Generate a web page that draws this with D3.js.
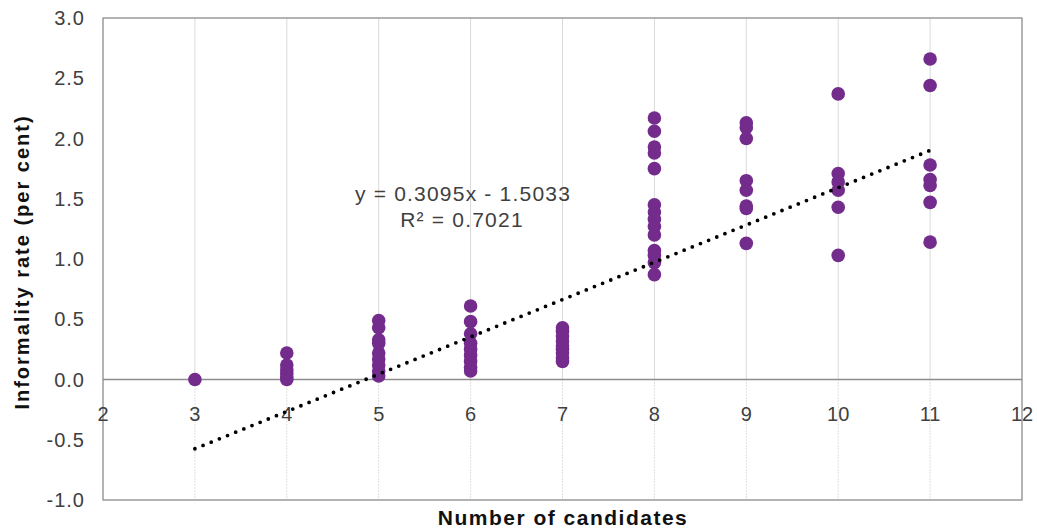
<!DOCTYPE html>
<html><head><meta charset="utf-8">
<script src="https://cdn.jsdelivr.net/npm/d3@7"></script>
<style>
body{margin:0;background:#fff;}
svg text{font-family:"Liberation Sans",Arial,sans-serif;fill:#404040;}
</style></head>
<body><svg id="c" width="1037" height="530"></svg>
<script>
const candidates = [3,
  4,4,4,4,4,4,
  5,5,5,5,5,5,5,5,5,
  6,6,6,6,6,6,6,6,6,
  7,7,7,7,7,7,7,7,7,
  8,8,8,8,8,8,8,8,8,8,8,8,8,8,
  9,9,9,9,9,9,9,9,
  10,10,10,10,10,10,
  11,11,11,11,11,11,11];
const informality = [0.0,
  0.22,0.12,0.08,0.05,0.02,0.0,
  0.49,0.43,0.33,0.30,0.22,0.17,0.12,0.07,0.03,
  0.61,0.48,0.38,0.30,0.25,0.20,0.15,0.10,0.07,
  0.43,0.40,0.36,0.32,0.28,0.25,0.22,0.18,0.15,
  2.17,2.06,1.93,1.88,1.75,1.45,1.39,1.33,1.27,1.20,1.07,1.03,0.97,0.87,
  2.13,2.09,2.00,1.65,1.57,1.44,1.42,1.13,
  2.37,1.71,1.64,1.57,1.43,1.03,
  2.66,2.44,1.78,1.66,1.61,1.47,1.14];
const xTicks = [2,3,4,5,6,7,8,9,10,11,12];
const yTicks = [-1.0,-0.5,0.0,0.5,1.0,1.5,2.0,2.5,3.0];
const trendSlope = 0.3095, trendIntercept = -1.5033;
const trendRange = [3, 11];
const equationText = "y = 0.3095x - 1.5033";
const r2Text = "R² = 0.7021";
const xTitle = "Number of candidates";
const yTitle = "Informality rate (per cent)";

const svg = d3.select("#c");
const L=103, R=1022, T=18, B=500;
const x = d3.scaleLinear().domain([2,12]).range([L,R]);
const y = d3.scaleLinear().domain([-1,3]).range([B,T]);

// vertical gridlines
const g = svg.append("g");
xTicks.slice(1,-1).forEach(v=>{
  g.append("line").attr("x1",x(v)).attr("x2",x(v)).attr("y1",T).attr("y2",y(0))
    .attr("stroke","#d9d9d9").attr("stroke-width",1);
  g.append("line").attr("x1",x(v)).attr("x2",x(v)).attr("y1",y(0)).attr("y2",B)
    .attr("stroke","#bfbfbf").attr("stroke-width",1).attr("stroke-dasharray","1,2");
});
// frame
svg.append("rect").attr("x",L).attr("y",T).attr("width",R-L).attr("height",B-T)
  .attr("fill","none").attr("stroke","#8c8c8c").attr("stroke-width",1.3);
// zero axis
svg.append("line").attr("x1",L).attr("x2",R).attr("y1",y(0)).attr("y2",y(0))
  .attr("stroke","#8c8c8c").attr("stroke-width",1.3);

// y tick labels
svg.append("g").selectAll("text").data(yTicks).join("text")
  .attr("x",85).attr("y",d=>y(d)+7).attr("text-anchor","end")
  .attr("font-size",20).attr("letter-spacing",1).text(d=>d.toFixed(1));
// x tick labels
svg.append("g").selectAll("text").data(xTicks).join("text")
  .attr("x",d=>x(d)).attr("y",421).attr("text-anchor","middle")
  .attr("font-size",20).text(d=>d);

// points
svg.append("g").selectAll("circle").data(candidates.map((c,i)=>[c,informality[i]])).join("circle")
  .attr("cx",d=>x(d[0])).attr("cy",d=>y(d[1])).attr("r",6.8).attr("fill","#732c8c");

// trendline
svg.append("line").attr("x1",x(trendRange[0])).attr("y1",y(trendSlope*trendRange[0]+trendIntercept))
  .attr("x2",x(trendRange[1])).attr("y2",y(trendSlope*trendRange[1]+trendIntercept))
  .attr("stroke","#000").attr("stroke-width",3.8).attr("stroke-linecap","round")
  .attr("stroke-dasharray","0,8.8");

// equation
svg.append("text").attr("x",463).attr("y",201).attr("text-anchor","middle").attr("font-size",21)
  .attr("letter-spacing",1.2).text(equationText);
svg.append("text").attr("x",462).attr("y",227).attr("text-anchor","middle").attr("font-size",21)
  .attr("letter-spacing",1.2).text(r2Text);

// axis titles
svg.append("text").attr("x",563).attr("y",525).attr("text-anchor","middle")
  .attr("font-size",21).attr("font-weight","bold").attr("letter-spacing",1.5).style("fill","#111").text(xTitle);
svg.append("text").attr("transform","translate(29,262) rotate(-90)").attr("text-anchor","middle")
  .attr("font-size",20).attr("font-weight","bold").attr("letter-spacing",2).style("fill","#111").text(yTitle);
</script></body></html>
